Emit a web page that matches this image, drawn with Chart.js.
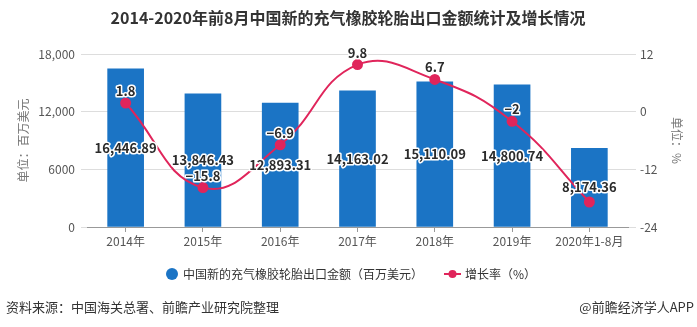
<!DOCTYPE html>
<html>
<head>
<meta charset="utf-8">
<script src="https://cdn.jsdelivr.net/npm/chart.js@4.4.0/dist/chart.umd.min.js"></script>
<style>
  html, body { margin: 0; padding: 0; background: #fff; }
  #wrap { width: 697px; height: 327px; position: relative; }
</style>
</head>
<body>
<div id="wrap"><canvas id="tyre-chart" width="697" height="327"></canvas></div>
<script>
var years = ['2014年', '2015年', '2016年', '2017年', '2018年', '2019年', '2020年1-8月'];
var exportValue = [16446.89, 13846.43, 12893.31, 14163.02, 15110.09, 14800.74, 8174.36];
var growthRate = [1.8, -15.8, -6.9, 9.8, 6.7, -2, -18.8];
var growthLabels = ['1.8', '−15.8', '−6.9', '9.8', '6.7', '−2', ''];
var leftTicks = [0, 6000, 12000, 18000];
var rightTicks = [-24, -12, 0, 12];

var BLUE = '#1b74c5', RED = '#e0255b';
var FONT = '"Noto Sans CJK SC", "Noto Sans", sans-serif';

function fmtMoney(v) {
    return v.toLocaleString('en-US', {minimumFractionDigits: 2, maximumFractionDigits: 2});
}

// text with white halo, like the value labels on the bars and the line
function haloText(ctx, txt, x, y, size) {
    ctx.save();
    ctx.font = 'bold ' + size + 'px ' + FONT;
    ctx.textAlign = 'center';
    ctx.textBaseline = 'middle';
    ctx.lineJoin = 'round';
    ctx.lineWidth = 3;
    ctx.strokeStyle = '#fff';
    ctx.strokeText(txt, x, y);
    ctx.fillStyle = '#2b2b2b';
    ctx.fillText(txt, x, y);
    ctx.restore();
}

var extras = {
    id: 'extras',
    afterDatasetsDraw: function(chart) {
        var ctx = chart.ctx;
        // dataset 1 = bars, dataset 0 = growth line
        chart.getDatasetMeta(1).data.forEach(function(bar, i) {
            haloText(ctx, fmtMoney(exportValue[i]), bar.x, (bar.y + bar.base) / 2, 13);
        });
        chart.getDatasetMeta(0).data.forEach(function(p, i) {
            if (growthLabels[i]) haloText(ctx, growthLabels[i], p.x, p.y - 12, 13);
        });
    },
    afterDraw: function(chart) {
        var ctx = chart.ctx;
        ctx.save();
        // title
        ctx.fillStyle = '#333';
        ctx.font = 'bold 16px ' + FONT;
        ctx.textAlign = 'center';
        ctx.textBaseline = 'middle';
        ctx.fillText('2014-2020年前8月中国新的充气橡胶轮胎出口金额统计及增长情况', 348, 18);

        // legend
        ctx.font = '12px ' + FONT;
        ctx.textAlign = 'left';
        ctx.fillStyle = BLUE;
        ctx.beginPath();
        ctx.arc(172, 274, 6, 0, Math.PI * 2);
        ctx.fill();
        ctx.fillStyle = '#333';
        ctx.fillText('中国新的充气橡胶轮胎出口金额（百万美元）', 183, 274);
        ctx.strokeStyle = RED;
        ctx.lineWidth = 2;
        ctx.beginPath();
        ctx.moveTo(444, 274);
        ctx.lineTo(461, 274);
        ctx.stroke();
        ctx.fillStyle = RED;
        ctx.beginPath();
        ctx.arc(452.5, 274, 4, 0, Math.PI * 2);
        ctx.fill();
        ctx.fillStyle = '#333';
        ctx.fillText('增长率（%）', 465, 274);

        // source line
        ctx.font = '13px ' + FONT;
        ctx.fillStyle = '#333';
        ctx.fillText('资料来源：中国海关总署、前瞻产业研究院整理', 6, 307);
        ctx.textAlign = 'right';
        ctx.fillText('@前瞻经济学人APP', 694, 307);
        ctx.restore();
    }
};

var chart = new Chart(document.getElementById('tyre-chart'), {
    data: {
        labels: years,
        datasets: [{
            type: 'line',
            label: '增长率（%）',
            data: growthRate,
            yAxisID: 'yRate',
            borderColor: RED,
            backgroundColor: RED,
            pointBackgroundColor: RED,
            pointBorderColor: RED,
            pointRadius: 4.5,
            borderWidth: 2,
            tension: 0.45,
            order: 0
        }, {
            type: 'bar',
            label: '中国新的充气橡胶轮胎出口金额（百万美元）',
            data: exportValue,
            yAxisID: 'yMoney',
            backgroundColor: BLUE,
            barThickness: 36,
            order: 1
        }]
    },
    options: {
        responsive: false,
        animation: false,
        layout: { padding: { left: 6, right: 4, top: 54, bottom: 74 } },
        plugins: { legend: { display: false }, tooltip: { enabled: false } },
        scales: {
            x: {
                grid: { display: true, drawOnChartArea: false, offset: false, tickLength: 5, color: '#999' },
                border: { color: '#999' },
                ticks: { color: '#555', font: { size: 12, family: FONT }, padding: 2, maxRotation: 0 },
                afterFit: function(s) { s.height = 26; }
            },
            yMoney: {
                position: 'left',
                min: 0, max: 18000,
                afterBuildTicks: function(s) { s.ticks = leftTicks.map(function(v) { return {value: v}; }); },
                ticks: {
                    color: '#555', font: { size: 12, family: FONT }, padding: 6,
                    callback: function(v) { return v >= 10000 ? v.toLocaleString('en-US') : String(v); }
                },
                grid: { color: '#ddd', tickLength: 6 },
                border: { display: false },
                title: { display: true, text: '单位：百万美元', color: '#777', font: { size: 12, family: FONT }, padding: 10 },
                afterFit: function(s) { s.width = 81; }
            },
            yRate: {
                position: 'right',
                min: -24, max: 12,
                afterBuildTicks: function(s) { s.ticks = rightTicks.map(function(v) { return {value: v}; }); },
                ticks: { color: '#555', font: { size: 12, family: FONT }, padding: 4 },
                grid: { drawOnChartArea: false, color: '#ddd', tickLength: 8 },
                border: { display: false },
                title: { display: true, text: '单位：%', color: '#777', font: { size: 12, family: FONT }, padding: 9 },
                afterFit: function(s) { s.width = 65; }
            }
        }
    },
    plugins: [extras]
});
</script>
</body>
</html>
